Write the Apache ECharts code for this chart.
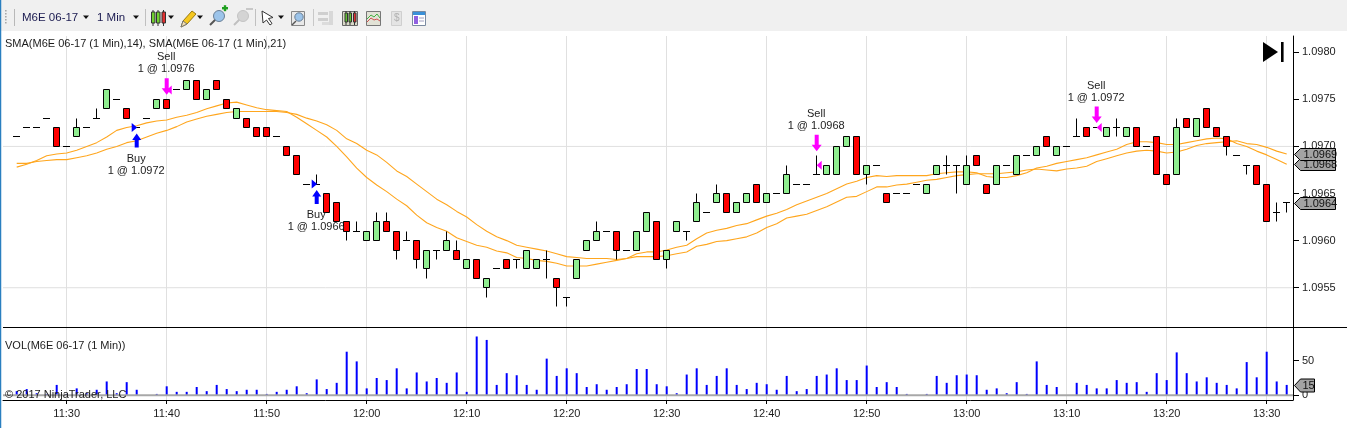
<!DOCTYPE html>
<html>
<head>
<meta charset="utf-8">
<script src="https://cdn.jsdelivr.net/npm/echarts@6/dist/echarts.min.js"></script>
<style>
html,body{margin:0;padding:0;background:#fff;overflow:hidden}
#main{width:1347px;height:428px}
</style>
</head>
<body>
<div id="main"></div>
<script>
const startMinute = 685; // 11:25
const opens = [1.0971,1.0972,1.0972,1.0973,1.0972,1.0970,1.0971,1.0972,1.0973,1.0974,
1.0975,1.0974,1.0972,1.0973,1.0974,1.0975,1.0976,1.0976,1.0977,1.0975,
1.0977,1.0975,1.0973,1.0973,1.0972,1.0972,1.0971,1.0970,1.0969,1.0966,
1.0966,1.0965,1.0964,1.0962,1.0961,1.0960,1.0960,1.0962,1.0961,1.0960,
1.0960,1.0957,1.0959,1.0959,1.0959,1.0957,1.0958,1.0955,1.0957,1.0958,
1.0958,1.0957,1.0957,1.0958,1.0956,1.0954,1.0956,1.0959,1.0960,1.0961,
1.0961,1.0959,1.0959,1.0961,1.0962,1.0958,1.0961,1.0961,1.0962,1.0963,
1.0964,1.0965,1.0963,1.0964,1.0966,1.0964,1.0965,1.0965,1.0966,1.0966,
1.0967,1.0967,1.0967,1.0970,1.0971,1.0967,1.0968,1.0965,1.0965,1.0965,
1.0966,1.0965,1.0967,1.0968,1.0968,1.0966,1.0969,1.0966,1.0966,1.0968,
1.0967,1.0969,1.0969,1.0971,1.0969,1.0970,1.0971,1.0972,1.0972,1.0971,
1.0972,1.0971,1.0972,1.0970,1.0971,1.0967,1.0967,1.0973,1.0971,1.0974,
1.0972,1.0971,1.0969,1.0968,1.0968,1.0966,1.0963,1.0964];
const closes = [1.0971,1.0972,1.0972,1.0973,1.0970,1.0970,1.0972,1.0972,1.0973,1.0976,
1.0975,1.0973,1.0972,1.0973,1.0975,1.0974,1.0976,1.0977,1.0975,1.0976,
1.0976,1.0974,1.0974,1.0972,1.0971,1.0971,1.0971,1.0969,1.0967,1.0966,
1.0966,1.0963,1.0962,1.0961,1.0961,1.0961,1.0962,1.0961,1.0959,1.0960,
1.0958,1.0959,1.0959,1.0960,1.0958,1.0958,1.0956,1.0956,1.0957,1.0957,
1.0958,1.0959,1.0958,1.0958,1.0955,1.0954,1.0958,1.0960,1.0961,1.0961,
1.0959,1.0959,1.0961,1.0963,1.0958,1.0959,1.0962,1.0961,1.0964,1.0963,
1.0965,1.0963,1.0964,1.0965,1.0964,1.0965,1.0965,1.0967,1.0966,1.0966,
1.0967,1.0968,1.0970,1.0971,1.0967,1.0968,1.0968,1.0964,1.0965,1.0965,
1.0966,1.0966,1.0968,1.0968,1.0968,1.0968,1.0968,1.0965,1.0968,1.0968,
1.0969,1.0969,1.0970,1.0970,1.0970,1.0970,1.0971,1.0971,1.0972,1.0972,
1.0972,1.0972,1.0970,1.0970,1.0967,1.0966,1.0972,1.0972,1.0973,1.0972,
1.0971,1.0970,1.0969,1.0968,1.0966,1.0962,1.0963,1.0964];
const highs = [1.0971,1.0972,1.0972,1.0973,1.0972,1.0970,1.0973,1.0972,1.0974,1.0976,
1.0975,1.0974,1.0972,1.0973,1.0975,1.0975,1.0976,1.0977,1.0977,1.0976,
1.0977,1.0975,1.0974,1.0973,1.0972,1.0972,1.0971,1.0970,1.0969,1.0966,
1.0967,1.0965,1.0964,1.0962,1.0962,1.0961,1.0963,1.0963,1.0961,1.0961,
1.0960,1.0959,1.0959,1.0961,1.0960,1.0958,1.0958,1.0956,1.0957,1.0958,
1.0958,1.0959,1.0958,1.0959,1.0956,1.0954,1.0958,1.0960,1.0962,1.0961,
1.0961,1.0959,1.0961,1.0963,1.0962,1.0959,1.0962,1.0961,1.0965,1.0963,
1.0966,1.0965,1.0964,1.0965,1.0966,1.0965,1.0965,1.0968,1.0966,1.0966,
1.0969,1.0968,1.0970,1.0971,1.0971,1.0968,1.0968,1.0965,1.0965,1.0965,
1.0966,1.0966,1.0968,1.0969,1.0968,1.0969,1.0969,1.0966,1.0968,1.0968,
1.0969,1.0969,1.0970,1.0971,1.0970,1.0970,1.0973,1.0972,1.0972,1.0972,
1.0973,1.0972,1.0972,1.0970,1.0971,1.0967,1.0973,1.0973,1.0973,1.0974,
1.0972,1.0971,1.0969,1.0968,1.0968,1.0966,1.0964,1.0964];
const lows = [1.0971,1.0972,1.0972,1.0973,1.0970,1.0970,1.0971,1.0972,1.0973,1.0974,
1.0975,1.0973,1.0972,1.0973,1.0974,1.0974,1.0976,1.0976,1.0975,1.0975,
1.0976,1.0974,1.0973,1.0972,1.0971,1.0971,1.0971,1.0969,1.0967,1.0966,
1.0966,1.0963,1.0962,1.0960,1.0961,1.0960,1.0960,1.0961,1.0958,1.0960,
1.0957,1.0956,1.0958,1.0959,1.0958,1.0957,1.0956,1.0954,1.0957,1.0957,
1.0957,1.0957,1.0957,1.0956,1.0953,1.0953,1.0956,1.0959,1.0960,1.0961,
1.0958,1.0959,1.0959,1.0961,1.0958,1.0957,1.0961,1.0960,1.0962,1.0963,
1.0964,1.0963,1.0963,1.0964,1.0964,1.0964,1.0965,1.0965,1.0966,1.0966,
1.0967,1.0967,1.0967,1.0970,1.0967,1.0966,1.0968,1.0964,1.0965,1.0965,
1.0966,1.0965,1.0967,1.0967,1.0965,1.0966,1.0968,1.0965,1.0966,1.0968,
1.0967,1.0969,1.0969,1.0970,1.0969,1.0970,1.0971,1.0971,1.0972,1.0971,
1.0971,1.0971,1.0970,1.0970,1.0967,1.0966,1.0967,1.0972,1.0971,1.0972,
1.0971,1.0969,1.0969,1.0967,1.0966,1.0962,1.0962,1.0963];
const sma14 = [1.09678,1.09681,1.09685,1.09690,1.09692,1.09693,1.09696,1.09700,1.09704,1.09710,
1.09717,1.09720,1.09722,1.09725,1.09727,1.09728,1.09731,1.09733,1.09736,1.09740,
1.09743,1.09746,1.09747,1.09744,1.09741,1.09739,1.09738,1.09737,1.09731,1.09724,
1.09717,1.09710,1.09700,1.09689,1.09677,1.09667,1.09659,1.09652,1.09644,1.09637,
1.09627,1.09619,1.09614,1.09610,1.09603,1.09599,1.09595,1.09593,1.09589,1.09587,
1.09582,1.09581,1.09579,1.09578,1.09576,1.09573,1.09573,1.09573,1.09575,1.09577,
1.09579,1.09581,1.09586,1.09588,1.09588,1.09590,1.09593,1.09595,1.09602,1.09608,
1.09611,1.09613,1.09616,1.09618,1.09622,1.09626,1.09629,1.09633,1.09638,1.09642,
1.09646,1.09650,1.09655,1.09660,1.09663,1.09667,1.09669,1.09668,1.09669,1.09669,
1.09669,1.09669,1.09671,1.09672,1.09673,1.09673,1.09672,1.09668,1.09667,1.09667,
1.09669,1.09672,1.09677,1.09679,1.09682,1.09684,1.09686,1.09688,1.09691,1.09694,
1.09697,1.09702,1.09705,1.09705,1.09704,1.09702,1.09702,1.09704,1.09706,1.09708,
1.09709,1.09708,1.09703,1.09700,1.09695,1.09691,1.09686,1.09681];
const sma21 = [1.09682,1.09682,1.09684,1.09685,1.09686,1.09686,1.09688,1.09690,1.09693,1.09697,
1.09700,1.09704,1.09706,1.09710,1.09714,1.09717,1.09721,1.09726,1.09729,1.09732,
1.09734,1.09736,1.09737,1.09737,1.09737,1.09737,1.09737,1.09736,1.09734,1.09730,
1.09727,1.09723,1.09717,1.09708,1.09703,1.09696,1.09691,1.09683,1.09674,1.09668,
1.09660,1.09652,1.09644,1.09638,1.09631,1.09625,1.09617,1.09610,1.09604,1.09600,
1.09595,1.09593,1.09591,1.09589,1.09586,1.09583,1.09582,1.09581,1.09581,1.09581,
1.09580,1.09581,1.09583,1.09583,1.09583,1.09584,1.09586,1.09588,1.09594,1.09596,
1.09599,1.09600,1.09602,1.09604,1.09608,1.09614,1.09618,1.09624,1.09626,1.09628,
1.09632,1.09636,1.09641,1.09646,1.09647,1.09652,1.09657,1.09657,1.09659,1.09660,
1.09662,1.09664,1.09665,1.09667,1.09669,1.09670,1.09671,1.09671,1.09671,1.09672,
1.09673,1.09675,1.09676,1.09675,1.09674,1.09676,1.09677,1.09679,1.09684,1.09687,
1.09690,1.09693,1.09695,1.09696,1.09695,1.09693,1.09694,1.09697,1.09701,1.09703,
1.09704,1.09705,1.09706,1.09703,1.09702,1.09699,1.09695,1.09692];
const volumes = [6,9,3,2,15,2,10,3,8,20,3,19,8,0,2,13,5,5,12,6,
15,9,6,8,8,2,5,8,13,3,23,9,18,63,49,10,25,22,39,10,
33,20,25,18,33,5,85,80,15,32,29,15,8,53,28,39,32,12,16,8,
12,16,38,38,16,13,3,30,39,15,28,39,15,9,18,16,8,28,6,9,
28,30,39,22,22,43,12,19,12,2,0,2,28,18,29,30,29,8,10,3,
19,2,49,15,12,0,18,15,10,10,22,18,19,5,32,22,62,32,20,26,
18,15,10,48,26,63,20,15];
const xTickLabels = ['11:30','11:40','11:50','12:00','12:10','12:20','12:30','12:40','12:50','13:00','13:10','13:20','13:30'];
const xTickMinutes = [690,700,710,720,730,740,750,760,770,780,790,800,810];
const priceTicks = [1.0955,1.0960,1.0965,1.0970,1.0975,1.0980];
const priceGridLines = [1.0970,1.0955];
const volumeTicks = [0,50];
const tradeMinutes = [697,700,715,765,793];
const tradeSides = ['Buy','Sell','Buy','Sell','Sell'];
const tradePrices = [1.0972,1.0976,1.0966,1.0968,1.0972];
const tradeAnchors = [1.0972,1.0975,1.0966,1.0969,1.0972];

const FONT = '"Liberation Sans", Arial, sans-serif';
const TXT = '#1c1c1c';
const GRID = '#e0e0e0';
const minutes = opens.map((_, i) => startMinute + i);
const xMin = 683.63, xMax = 812.63;

function last(a){return a[a.length-1];}
function snap(v){return Math.floor(v)+0.5;}

function renderCandle(params, api){
  const t = api.value(0);
  const pO = api.coord([t, api.value(1)]);
  const pC = api.coord([t, api.value(2)]);
  const pH = api.coord([t, api.value(3)]);
  const pL = api.coord([t, api.value(4)]);
  const c = snap(pO[0]);
  const yO = snap(pO[1]), yC = snap(pC[1]), yH = snap(pH[1]), yL = snap(pL[1]);
  const top = Math.min(yO,yC), bot = Math.max(yO,yC);
  const kids = [];
  const ln = {stroke:'#000',lineWidth:1};
  if (yH < top) kids.push({type:'line',shape:{x1:c,y1:yH,x2:c,y2:top},style:ln});
  if (yL > bot) kids.push({type:'line',shape:{x1:c,y1:bot,x2:c,y2:yL},style:ln});
  if (yO === yC){
    kids.push({type:'line',shape:{x1:c-3.5,y1:yO,x2:c+3.5,y2:yO},style:ln});
  } else {
    kids.push({type:'rect',shape:{x:c-3,y:top,width:6,height:bot-top},
      style:{fill: api.value(2) > api.value(1) ? '#90ee90' : '#ff0000',stroke:'#000',lineWidth:1}});
  }
  return {type:'group',children:kids};
}

function renderTrade(params, api){
  const t = api.value(0), i = params.dataIndex;
  const p = api.coord([t, api.value(1)]);
  const a = api.coord([t, api.value(2)]);
  const c = p[0], y = p[1];
  const buy = tradeSides[i] === 'Buy';
  const col = buy ? '#0000ff' : '#ff00ff';
  const kids = [];
  let lineA, lineB;
  if (buy){
    kids.push({type:'polygon',shape:{points:[[c-5,y-4.5],[c+0.5,y],[c-5,y+4.5]]},style:{fill:col}});
    const tip = a[1]+6, bot = tip+14;
    kids.push({type:'polygon',shape:{points:[[c,tip],[c+4.5,tip+6.5],[c+2,tip+6.5],[c+2,bot],[c-2,bot],[c-2,tip+6.5],[c-4.5,tip+6.5]]},style:{fill:col}});
    lineA = bot+11; lineB = bot+23;
  } else {
    kids.push({type:'polygon',shape:{points:[[c,y],[c+5,y-4.5],[c+5,y+4.5]]},style:{fill:col}});
    const tip = a[1]-4.5, top = tip-16.5;
    kids.push({type:'polygon',shape:{points:[[c,tip],[c+5,tip-6.5],[c+2,tip-6.5],[c+2,top],[c-2,top],[c-2,tip-6.5],[c-5,tip-6.5]]},style:{fill:col}});
    lineA = top-21; lineB = top-9;
  }
  const txt = (s,yy)=>({type:'text',style:{text:s,x:c-0.5,y:yy,textAlign:'center',textVerticalAlign:'middle',font:'11px '+FONT,fill:TXT}});
  kids.push(txt(tradeSides[i],lineA));
  kids.push(txt('1 @ '+tradePrices[i].toFixed(4),lineB));
  return {type:'group',children:kids};
}

function flagRenderer(digits,w,h){
  return function(params, api){
    const p = api.coord([xMax, api.value(1)]);
    const x = p[0]+1.5, y = Math.round(p[1])+0.5;
    return {type:'group',children:[
      {type:'polygon',shape:{points:[[x,y],[x+6,y-h],[x+w,y-h],[x+w,y+h],[x+6,y+h]]},style:{fill:'#a3a3a3',stroke:'#000',lineWidth:1}},
      {type:'text',style:{text:api.value(1).toFixed(digits),x:x+(digits?9:8),y:y+0.5,textAlign:'left',textVerticalAlign:'middle',font:'11px '+FONT,fill:'#111'}}
    ]};
  };
}

// Window chrome and decoration
const Z = 100;
const g = [];
const rect=(x,y,w,h,fill,stroke)=>g.push({type:'rect',z:Z,silent:true,shape:{x,y,width:w,height:h},style:{fill:fill||'none',stroke:stroke||'none',lineWidth:1}});
const line=(x1,y1,x2,y2,c,w)=>g.push({type:'line',z:Z,silent:true,shape:{x1,y1,x2,y2},style:{stroke:c,lineWidth:w||1}});
const poly=(pts,fill,stroke)=>g.push({type:'polygon',z:Z,silent:true,shape:{points:pts},style:{fill:fill,stroke:stroke||'none',lineWidth:1}});
const circ=(cx,cy,r,fill,stroke)=>g.push({type:'circle',z:Z,silent:true,shape:{cx,cy,r},style:{fill:fill,stroke:stroke||'none',lineWidth:1}});
const text=(s,x,y,size,fill)=>g.push({type:'text',z:Z,silent:true,style:{text:s,x,y,textVerticalAlign:'middle',font:size+'px '+FONT,fill:fill||TXT}});
const drop=(x)=>poly([[x,15.5],[x+6,15.5],[x+3,19]],'#111');

rect(0,0,1347,31,'#f0f0f0');
line(0.5,0,0.5,428,'#2a7fc0',1.5);
for(let y=10;y<25;y+=3) rect(5,y,1.6,1.6,'#a8a8a8');
line(14.5,9,14.5,26,'#b8b8b8');
text('M6E 06-17',22,17.5,11.5,'#1a1a50'); drop(83);
text('1 Min',97,17.5,11.5,'#1a1a50'); drop(133);
line(145.5,9,145.5,26,'#c0c0c0');
[[151.5,'#70d030'],[156.5,'#70d030'],[162,'#e03030']].forEach(d=>{line(d[0]+1.5,10,d[0]+1.5,26,'#333');rect(d[0],12,3.5,11,d[1],'#333');});
drop(168);
poly([[181,27],[183,21],[192,11],[196,14],[187,24]],'#f6c820','#9a7a10');
poly([[181,27],[183,21],[187,24]],'#f3dfb0','#777');
drop(197);
line(210,25,216,19,'#555',2); circ(219,16,5.5,'#9cc4ea','#6a7f95');
rect(222,7,6,2.4,'#20a020'); rect(223.8,5.2,2.4,6,'#20a020');
line(234,25,240,19,'#c0c0c0',2); circ(243,16,5.5,'#d4d4d4','#c4c4c4'); rect(246,8,7,2,'#c8c8c8');
line(255.5,9,255.5,26,'#c0c0c0');
poly([[262,11],[273,17.5],[268.5,18.5],[272,23.5],[270,25],[266.5,20],[263,23]],'#fff','#333');
drop(278);
rect(291.5,11.5,13,14,'#e8e8e8','#888'); line(292,25,296,21,'#555',1.5); circ(299,17,4.2,'#9cc4ea','#6a7f95');
line(313.5,9,313.5,26,'#c8c8c8');
rect(318,12,10,3,'#cfcfcf'); rect(318,18,10,3,'#cfcfcf'); rect(329,11,4,14,'#d8d8d8'); rect(322,22,7,3,'#dcdcdc');
rect(342.5,11.5,15,14,'#d8d8c8','#666');
[[345,'#60c030'],[349,'#60c030'],[353.5,'#e03030']].forEach(d=>{line(d[0]+1,11,d[0]+1,25,'#333');rect(d[0],13,2.5,9,d[1],'#333');});
rect(366.5,11.5,14,14,'#e2e2d6','#777');
g.push({type:'polyline',z:Z,silent:true,shape:{points:[[367,19],[371,15],[374,17],[377,14],[380,18]]},style:{stroke:'#40b040',fill:'none'}});
g.push({type:'polyline',z:Z,silent:true,shape:{points:[[367,22],[371,18],[374,20],[377,19],[380,21]]},style:{stroke:'#d05050',fill:'none'}});
rect(391.5,11.5,10,14,'#e4e4e4','#cfcfcf'); text('$',394,18.5,10,'#b0b0b0');
rect(412.5,11.5,13,14,'#fff','#7a8aa0'); rect(413,12,12,3,'#3a90d8'); rect(414,16,4,8,'#9060e0'); line(419,18,424,18,'#a0a0c0'); line(419,21,424,21,'#a0a0c0');

line(3,327.5,1347,327.5,'#000');
poly([[1263,42],[1278,52],[1263,62]],'#000');
rect(1281,42,2.6,20,'#000');
text('SMA(M6E 06-17 (1 Min),14), SMA(M6E 06-17 (1 Min),21)',5,43.5,11);
text('VOL(M6E 06-17 (1 Min))',5,345.5,11);
text('\u00a9 2017 NinjaTrader, LLC',5,394.5,11);

const chart = echarts.init(document.getElementById('main'), null, {renderer:'canvas'});
const hLine = (name,xi,yi,val,color,width,z) => ({name,type:'line',xAxisIndex:xi,yAxisIndex:yi,z,silent:true,
  showSymbol:false,symbol:'none',data:[[xMin,val],[xMax,val]],lineStyle:{color,width,type:'solid'}});
chart.setOption({
  animation:false,
  backgroundColor:'#fff',
  graphic:g,
  grid:[
    {left:3,top:36,width:1290,height:291,containLabel:false},
    {left:3,top:327,width:1290,height:73,containLabel:false}
  ],
  xAxis:[
    {type:'value',gridIndex:0,min:xMin,max:xMax,position:'bottom',
      axisLine:{show:false},axisTick:{show:false,customValues:xTickMinutes},
      axisLabel:{show:false,customValues:xTickMinutes},
      splitLine:{show:true,lineStyle:{color:GRID,width:1}}},
    {type:'value',gridIndex:1,min:xMin,max:xMax,position:'bottom',
      axisLine:{show:true,onZero:false,lineStyle:{color:'#000',width:1}},
      axisTick:{show:true,length:4,customValues:xTickMinutes,lineStyle:{color:'#000'}},
      axisLabel:{show:true,customValues:xTickMinutes,margin:8,color:TXT,fontFamily:FONT,fontSize:11,
        formatter:v=>xTickLabels[xTickMinutes.indexOf(v)]||''},
      splitLine:{show:true,lineStyle:{color:GRID,width:1}}}
  ],
  yAxis:[
    {type:'value',gridIndex:0,position:'right',min:1.095083,max:1.098172,
      axisLine:{show:true,onZero:false,lineStyle:{color:'#000',width:1}},
      axisTick:{show:true,length:6,customValues:priceTicks,lineStyle:{color:'#000'}},
      axisLabel:{show:true,customValues:priceTicks,margin:9,padding:[2,0,0,0],color:TXT,fontFamily:FONT,fontSize:11,
        formatter:v=>v.toFixed(4)},
      splitLine:{show:false}},
    {type:'value',gridIndex:1,position:'right',min:-6.8,max:98.7,
      axisLine:{show:true,onZero:false,lineStyle:{color:'#000',width:1}},
      axisTick:{show:true,length:6,customValues:volumeTicks,lineStyle:{color:'#000'}},
      axisLabel:{show:true,customValues:volumeTicks,margin:9,padding:[2,0,0,0],color:TXT,fontFamily:FONT,fontSize:11,
        formatter:v=>String(v)},
      splitLine:{show:false}}
  ],
  series:[
    ...priceGridLines.map((p,i)=>hLine('Price grid '+i,0,0,p,GRID,1,1)),
    hLine('Volume baseline',1,1,0,'#a8a8a8',2,4),
    {name:'SMA 14',type:'line',xAxisIndex:0,yAxisIndex:0,z:2,showSymbol:false,symbol:'none',silent:true,
      data:minutes.map((m,i)=>[m,sma14[i]]),lineStyle:{color:'#ffa61e',width:1.1}},
    {name:'SMA 21',type:'line',xAxisIndex:0,yAxisIndex:0,z:2,showSymbol:false,symbol:'none',silent:true,
      data:minutes.map((m,i)=>[m,sma21[i]]),lineStyle:{color:'#ffa61e',width:1.1}},
    {name:'M6E 06-17',type:'custom',xAxisIndex:0,yAxisIndex:0,z:3,silent:true,renderItem:renderCandle,
      encode:{x:0,y:[1,2,3,4]},
      data:minutes.map((m,i)=>[m,opens[i],closes[i],highs[i],lows[i]])},
    {name:'Trades',type:'custom',xAxisIndex:0,yAxisIndex:0,z:6,silent:true,renderItem:renderTrade,
      encode:{x:0,y:1},
      data:tradeMinutes.map((m,i)=>[m,tradePrices[i],tradeAnchors[i]])},
    {name:'Volume',type:'bar',xAxisIndex:1,yAxisIndex:1,z:3,silent:true,barWidth:2,
      itemStyle:{color:'#0000ff'},
      data:minutes.map((m,i)=>[m,volumes[i]])},
    {name:'Last price',type:'custom',xAxisIndex:0,yAxisIndex:0,z:7,silent:true,
      renderItem:flagRenderer(4,41,6),encode:{x:0,y:1},
      data:[[xMax,last(sma14)],[xMax,last(sma21)],[xMax,last(closes)]]},
    {name:'Last volume',type:'custom',xAxisIndex:1,yAxisIndex:1,z:7,silent:true,
      renderItem:flagRenderer(0,20,6.5),encode:{x:0,y:1},
      data:[[xMax,last(volumes)]]}
  ]
});
</script>
</body>
</html>
